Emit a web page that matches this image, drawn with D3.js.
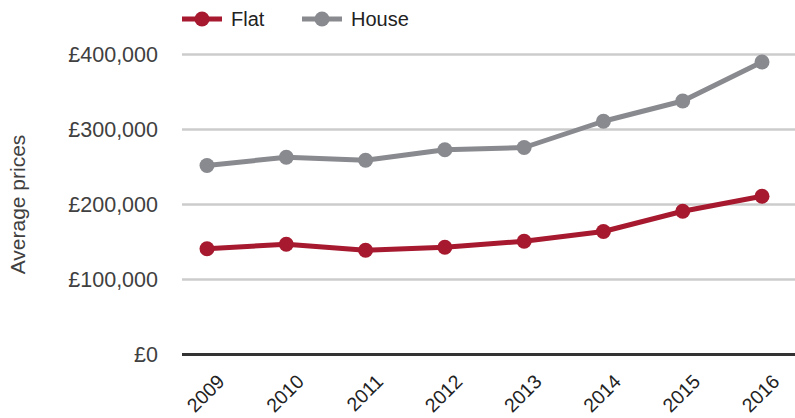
<!DOCTYPE html>
<html>
<head>
<meta charset="utf-8">
<script src="https://cdn.jsdelivr.net/npm/d3@7/dist/d3.min.js"></script>
<style>
  html, body { margin: 0; padding: 0; background: #fff; }
  text { font-family: "Liberation Sans", Arial, sans-serif; }
</style>
</head>
<body>
<svg id="chart" width="795" height="418"></svg>
<script>
const years = ["2009", "2010", "2011", "2012", "2013", "2014", "2015", "2016"];
const flatPrices = [141000, 147000, 139000, 143000, 151000, 164000, 191000, 211000];
const housePrices = [252000, 263000, 259000, 273000, 276000, 311000, 338000, 390000];
const yTicks = [0, 100000, 200000, 300000, 400000];
const seriesNames = ["Flat", "House"];
const seriesColors = ["#a6192e", "#898a8f"];

const svg = d3.select("#chart");
const plotLeft = 182, plotRight = 795;

const x = d3.scalePoint().domain(years).range([207, 762]);
const y = d3.scaleLinear().domain([0, 400000]).range([354.5, 54.5]);

const fmt = v => "£" + d3.format(",")(v);

// horizontal gridlines
svg.append("g").selectAll("line")
  .data(yTicks.filter(t => t > 0))
  .join("line")
  .attr("x1", plotLeft).attr("x2", plotRight)
  .attr("y1", d => y(d)).attr("y2", d => y(d))
  .attr("stroke", "#cccccc").attr("stroke-width", 2.5);

// zero baseline
svg.append("line")
  .attr("x1", plotLeft).attr("x2", plotRight)
  .attr("y1", y(0)).attr("y2", y(0))
  .attr("stroke", "#333333").attr("stroke-width", 3);

// y axis labels
const yAxis = d3.axisLeft(y).tickValues(yTicks).tickFormat(fmt).tickSize(0).tickPadding(0);
const gy = svg.append("g").attr("transform", "translate(158,0)").call(yAxis);
gy.select(".domain").remove();
gy.selectAll("text")
  .attr("fill", "#404040")
  .style("font-size", "21.5px")
  .style("font-family", "'Liberation Sans', Arial, sans-serif");

// x axis labels (rotated)
const xAxis = d3.axisBottom(x).tickSize(0).tickPadding(0);
const gx = svg.append("g").call(xAxis);
gx.select(".domain").remove();
gx.selectAll(".tick").attr("transform", d => `translate(${x(d) + 9},373)`);
gx.selectAll("text")
  .attr("y", 0).attr("dy", "0.71em")
  .attr("text-anchor", "end")
  .attr("transform", "rotate(-45)")
  .attr("fill", "#222222")
  .style("font-size", "19.5px")
  .style("font-family", "'Liberation Sans', Arial, sans-serif");

// y axis title
svg.append("text")
  .attr("transform", `translate(25,${y(200000)}) rotate(-90)`)
  .attr("text-anchor", "middle")
  .attr("fill", "#404040")
  .style("font-size", "21px")
  .text("Average prices");

// series
const series = [flatPrices, housePrices].map((vals, i) => ({
  name: seriesNames[i], color: seriesColors[i],
  points: years.map((yr, j) => ({ yr, v: vals[j] }))
}));

const line = d3.line().x(d => x(d.yr)).y(d => y(d.v));

series.forEach(s => {
  svg.append("path")
    .datum(s.points)
    .attr("d", line)
    .attr("fill", "none")
    .attr("stroke", s.color)
    .attr("stroke-width", 5)
    .attr("stroke-linejoin", "round");
  svg.append("g").selectAll("circle")
    .data(s.points)
    .join("circle")
    .attr("cx", d => x(d.yr)).attr("cy", d => y(d.v))
    .attr("r", 7.5)
    .attr("fill", s.color);
});

// legend
const legend = svg.append("g").attr("transform", "translate(182,19)");
series.forEach((s, i) => {
  const g = legend.append("g").attr("transform", `translate(${i * 120},0)`);
  g.append("line").attr("x1", 0).attr("x2", 40).attr("y1", 0).attr("y2", 0)
    .attr("stroke", s.color).attr("stroke-width", 5);
  g.append("circle").attr("cx", 20).attr("cy", 0).attr("r", 7.5).attr("fill", s.color);
  g.append("text").attr("x", 49).attr("y", 0).attr("dy", "0.35em")
    .attr("fill", "#222222").style("font-size", "20px").text(s.name);
});
</script>
</body>
</html>
